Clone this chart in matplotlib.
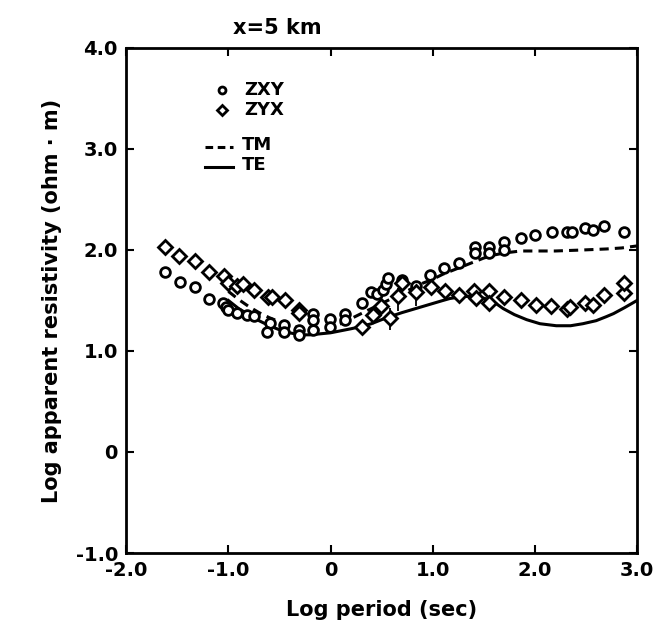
import matplotlib
matplotlib.use("Agg")
import matplotlib.pyplot as plt
import numpy as np

# ZXY (circles)
zxy_x = [-1.62, -1.47, -1.33, -1.19, -1.05, -1.02, -1.0, -0.92, -0.82, -0.75, -0.59, -0.62,
         -0.46, -0.46, -0.31, -0.31, -0.17, -0.17, -0.17, -0.01, -0.01, 0.14, 0.14, 0.31,
         0.40, 0.45, 0.51, 0.54, 0.56, 0.70, 0.84, 0.97, 1.11, 1.26, 1.41, 1.41, 1.55, 1.55,
         1.70, 1.70, 1.86, 2.00, 2.17, 2.31, 2.36, 2.49, 2.57, 2.68, 2.87]
zxy_y = [1.78, 1.68, 1.63, 1.51, 1.48, 1.44, 1.41, 1.38, 1.36, 1.35, 1.28, 1.19,
         1.26, 1.19, 1.21, 1.16, 1.37, 1.31, 1.21, 1.32, 1.24, 1.37, 1.31, 1.48,
         1.58, 1.56, 1.60, 1.66, 1.72, 1.70, 1.64, 1.75, 1.82, 1.87, 2.03, 1.97, 2.03, 1.97,
         2.08, 2.00, 2.12, 2.15, 2.18, 2.18, 2.18, 2.22, 2.20, 2.24, 2.18]

# ZYX (diamonds)
zyx_x = [-1.62, -1.48, -1.33, -1.19, -1.04, -1.00, -0.92, -0.86, -0.75, -0.61, -0.57,
         -0.45, -0.31, -0.31, 0.31, 0.42, 0.49, 0.58, 0.66, 0.70, 0.84, 0.98, 1.12, 1.26,
         1.40, 1.42, 1.55, 1.55, 1.70, 1.86, 2.01, 2.16, 2.31, 2.34, 2.49, 2.57, 2.68,
         2.87, 2.87]
zyx_y = [2.03, 1.94, 1.89, 1.78, 1.74, 1.67, 1.64, 1.66, 1.60, 1.53, 1.53,
         1.50, 1.41, 1.38, 1.24, 1.36, 1.45, 1.33, 1.54, 1.67, 1.58, 1.63, 1.59, 1.55,
         1.59, 1.52, 1.59, 1.48, 1.53, 1.50, 1.46, 1.45, 1.42, 1.44, 1.48, 1.46, 1.55,
         1.57, 1.67]

# error bars on selected ZYX points
err_x = [0.58, 0.66, 0.84]
err_lo = [1.21, 1.40, 1.45]
err_hi = [1.43, 1.62, 1.66]

# TM model curve (dashed)
tm_x = [-1.0, -0.9, -0.8, -0.7, -0.6, -0.5, -0.4, -0.3, -0.2, -0.1, 0.0, 0.1, 0.2, 0.3, 0.4,
        0.5, 0.6, 0.7, 0.8, 0.9, 1.0, 1.1, 1.2, 1.3, 1.4, 1.5, 1.6, 1.7, 1.86, 2.0, 2.2,
        2.47, 2.7, 2.85, 3.0]
tm_y = [1.59, 1.51, 1.44, 1.38, 1.33, 1.29, 1.25, 1.23, 1.21, 1.21, 1.23, 1.27, 1.32, 1.37, 1.42,
        1.47, 1.52, 1.57, 1.62, 1.67, 1.71, 1.76, 1.80, 1.84, 1.88, 1.92, 1.95, 1.97, 1.99, 1.99, 1.99,
        2.00, 2.01, 2.02, 2.04]

# TE model curve (solid)
te_x = [-1.0, -0.9, -0.8, -0.7, -0.6, -0.5, -0.4, -0.3, -0.2, -0.1, 0.0, 0.1, 0.2, 0.29, 0.4,
        0.5, 0.58, 0.7, 0.8, 0.9, 1.0, 1.1, 1.17, 1.3, 1.43, 1.55, 1.62, 1.69, 1.8, 1.92,
        2.05, 2.21, 2.35, 2.47, 2.6, 2.7, 2.77, 2.88, 3.0]
te_y = [1.50, 1.42, 1.36, 1.30, 1.25, 1.21, 1.18, 1.16, 1.16, 1.17, 1.18, 1.20, 1.22, 1.24, 1.27,
        1.31, 1.34, 1.38, 1.41, 1.44, 1.47, 1.50, 1.52, 1.54, 1.54, 1.51, 1.47, 1.42, 1.36, 1.31,
        1.27, 1.25, 1.25, 1.27, 1.30, 1.34, 1.37, 1.43, 1.50]

xticks = [-2, -1, 0, 1, 2, 3]
xticklabels = ["-2.0", "-1.0", "0", "1.0", "2.0", "3.0"]
yticks = [-1, 0, 1, 2, 3, 4]
yticklabels = ["-1.0", "0", "1.0", "2.0", "3.0", "4.0"]

plt.rcParams['font.family'] = ['DejaVu Sans']

fig = plt.figure(figsize=(6.54, 6.31), dpi=100)
ax = fig.add_axes([0.193, 0.1236, 0.781, 0.8004])

lw = 2.2
ax.plot(tm_x, tm_y, color='black', lw=lw, ls=(0, (3, 2)))
ax.plot(te_x, te_y, color='black', lw=lw, ls='-')
ax.vlines(err_x, err_lo, err_hi, color='black', lw=1.3)
ax.plot(zxy_x, zxy_y, ls='none', marker='o', ms=7, mfc='white', mec='black', mew=2.0)
ax.plot(zyx_x, zyx_y, ls='none', marker='D', ms=7, mfc='white', mec='black', mew=2.0)

# legend drawn manually in data coordinates
ax.plot([-1.06], [3.58], ls='none', marker='o', ms=5, mfc='white', mec='black', mew=2.0)
ax.plot([-1.06], [3.39], ls='none', marker='D', ms=5.5, mfc='white', mec='black', mew=2.0)
ax.plot([-1.23, -0.95], [3.02, 3.02], color='black', lw=lw, ls=(0, (2.5, 1.5)))
ax.plot([-1.23, -0.95], [2.82, 2.82], color='black', lw=lw, ls='-')
fs_leg = 13
ax.text(-0.84, 3.58, "ZXY", fontsize=fs_leg, va='center', ha='left', fontweight='bold')
ax.text(-0.84, 3.39, "ZYX", fontsize=fs_leg, va='center', ha='left', fontweight='bold')
ax.text(-0.87, 3.04, "TM", fontsize=fs_leg, va='center', ha='left', fontweight='bold')
ax.text(-0.87, 2.84, "TE", fontsize=fs_leg, va='center', ha='left', fontweight='bold')

ax.set_xlim(-2, 3)
ax.set_ylim(-1, 4)
ax.set_xticks(xticks)
ax.set_xticklabels(xticklabels, fontweight='bold')
ax.set_yticks(yticks)
ax.set_yticklabels(yticklabels, fontweight='bold')
ax.tick_params(direction='in', length=6, width=1.5, top=True, right=True,
               labelsize=14, pad=6)
for s in ax.spines.values():
    s.set_linewidth(2)

ax.set_xlabel("Log period (sec)", fontsize=15, labelpad=14, fontweight='bold')
ax.set_ylabel("Log apparent resistivity (ohm · m)", fontsize=15, labelpad=10, fontweight='bold')
ax.text(-0.52, 4.1, "x=5 km", fontsize=15, ha='center', va='bottom', fontweight='bold')

fig.savefig("out.png", dpi=100)
